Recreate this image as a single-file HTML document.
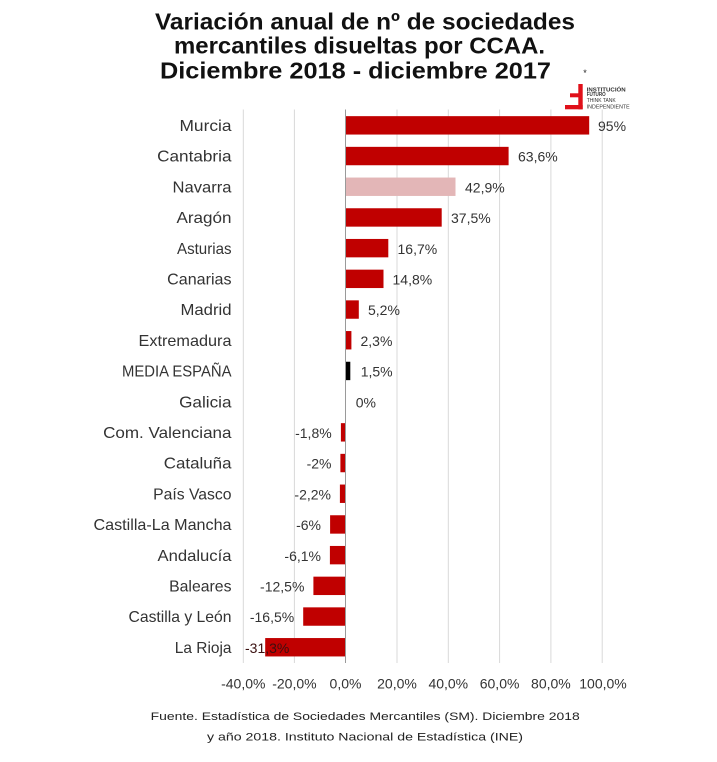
<!DOCTYPE html>
<html>
<head>
<meta charset="utf-8">
<style>
html,body{margin:0;padding:0;background:#fff;}
svg{display:block;}
text{font-family:"Liberation Sans","DejaVu Sans",sans-serif;}
</style>
</head>
<body>
<svg width="717" height="762" viewBox="0 0 717 762" xmlns="http://www.w3.org/2000/svg">
<rect x="0" y="0" width="717" height="762" fill="#fff"/>

<!-- Title -->
<g font-weight="bold" font-size="23" fill="#111">
<text x="155" y="29.5" textLength="420" lengthAdjust="spacingAndGlyphs">Variación anual de nº de sociedades</text>
<text x="174" y="53.5" textLength="371" lengthAdjust="spacingAndGlyphs">mercantiles disueltas por CCAA.</text>
<text x="160" y="78.3" textLength="391" lengthAdjust="spacingAndGlyphs">Diciembre 2018 - diciembre 2017</text>
</g>

<!-- Logo -->
<g>
<text x="585" y="76" font-size="9" fill="#222" text-anchor="middle">*</text>
<rect x="578.3" y="84" width="4.4" height="25.3" fill="#e0101a"/>
<rect x="570" y="93.3" width="8.5" height="4" fill="#e0101a"/>
<rect x="565" y="105" width="17.7" height="4.3" fill="#e0101a"/>
<g font-size="5" fill="#333">
<text x="586.7" y="91.5" font-weight="bold" textLength="39" lengthAdjust="spacingAndGlyphs">INSTITUCIÓN</text>
<text x="586.7" y="96" font-weight="bold" textLength="19" lengthAdjust="spacingAndGlyphs">FUTURO</text>
<text x="586.7" y="102" textLength="29" lengthAdjust="spacingAndGlyphs">THINK TANK</text>
<text x="586.7" y="108.3" textLength="43" lengthAdjust="spacingAndGlyphs">INDEPENDIENTE</text>
</g>
</g>

<!-- Gridlines -->
<g stroke="#d9d9d9" stroke-width="1">
<line x1="243.3" y1="109.5" x2="243.3" y2="663"/>
<line x1="294.4" y1="109.5" x2="294.4" y2="663"/>
<line x1="397" y1="109.5" x2="397" y2="663"/>
<line x1="448.3" y1="109.5" x2="448.3" y2="663"/>
<line x1="499.6" y1="109.5" x2="499.6" y2="663"/>
<line x1="550.9" y1="109.5" x2="550.9" y2="663"/>
<line x1="602.2" y1="109.5" x2="602.2" y2="663"/>
</g>

<!-- Bars -->
<g fill="#c00000">
<rect x="345.5" y="116.15" width="243.7" height="18.4"/>
<rect x="345.5" y="146.85" width="163.1" height="18.4"/>
<rect x="345.5" y="177.55" width="110.0" height="18.4" fill="#e3b6b7"/>
<rect x="345.5" y="208.25" width="96.2" height="18.4"/>
<rect x="345.5" y="238.95" width="42.8" height="18.4"/>
<rect x="345.5" y="269.65" width="38.0" height="18.4"/>
<rect x="345.5" y="300.35" width="13.3" height="18.4"/>
<rect x="345.5" y="331.05" width="5.9" height="18.4"/>
<rect x="345.5" y="361.75" width="4.8" height="18.4" fill="#000"/>
<rect x="340.9" y="423.15" width="4.6" height="18.4"/>
<rect x="340.4" y="453.85" width="5.1" height="18.4"/>
<rect x="339.9" y="484.55" width="5.6" height="18.4"/>
<rect x="330.1" y="515.25" width="15.4" height="18.4"/>
<rect x="329.9" y="545.95" width="15.6" height="18.4"/>
<rect x="313.4" y="576.65" width="32.1" height="18.4"/>
<rect x="303.2" y="607.35" width="42.3" height="18.4"/>
<rect x="265.2" y="638.05" width="80.3" height="18.4"/>
</g>

<!-- Zero axis -->
<line x1="345.5" y1="109.5" x2="345.5" y2="663" stroke="#9a9a9a" stroke-width="1"/>

<!-- Category labels -->
<g font-size="16" fill="#333" text-anchor="end">
<text x="231.5" y="131" textLength="52" lengthAdjust="spacingAndGlyphs">Murcia</text>
<text x="231.5" y="161.7" textLength="74.4" lengthAdjust="spacingAndGlyphs">Cantabria</text>
<text x="231.5" y="192.4" textLength="59" lengthAdjust="spacingAndGlyphs">Navarra</text>
<text x="231.5" y="223.1" textLength="55" lengthAdjust="spacingAndGlyphs">Aragón</text>
<text x="231.5" y="253.8" textLength="54.5" lengthAdjust="spacingAndGlyphs">Asturias</text>
<text x="231.5" y="284.5" textLength="64.3" lengthAdjust="spacingAndGlyphs">Canarias</text>
<text x="231.5" y="315.2" textLength="51" lengthAdjust="spacingAndGlyphs">Madrid</text>
<text x="231.5" y="345.9" textLength="93" lengthAdjust="spacingAndGlyphs">Extremadura</text>
<text x="231.5" y="376.6" textLength="109.5" lengthAdjust="spacingAndGlyphs">MEDIA ESPAÑA</text>
<text x="231.5" y="407.3" textLength="52.4" lengthAdjust="spacingAndGlyphs">Galicia</text>
<text x="231.5" y="438" textLength="128.4" lengthAdjust="spacingAndGlyphs">Com. Valenciana</text>
<text x="231.5" y="468.7" textLength="67.7" lengthAdjust="spacingAndGlyphs">Cataluña</text>
<text x="231.5" y="499.4" textLength="78.4" lengthAdjust="spacingAndGlyphs">País Vasco</text>
<text x="231.5" y="530.1" textLength="138" lengthAdjust="spacingAndGlyphs">Castilla-La Mancha</text>
<text x="231.5" y="560.8" textLength="74" lengthAdjust="spacingAndGlyphs">Andalucía</text>
<text x="231.5" y="591.5" textLength="62.4" lengthAdjust="spacingAndGlyphs">Baleares</text>
<text x="231.5" y="622.2" textLength="103" lengthAdjust="spacingAndGlyphs">Castilla y León</text>
<text x="231.5" y="652.9" textLength="56.7" lengthAdjust="spacingAndGlyphs">La Rioja</text>
</g>

<!-- Value labels -->
<g font-size="14" fill="#333">
<text x="598" y="131">95%</text>
<text x="518" y="161.7">63,6%</text>
<text x="465" y="192.4">42,9%</text>
<text x="451" y="223.1">37,5%</text>
<text x="397.5" y="253.8">16,7%</text>
<text x="392.5" y="284.5">14,8%</text>
<text x="368" y="315.2">5,2%</text>
<text x="360.5" y="345.9">2,3%</text>
<text x="360.7" y="376.6">1,5%</text>
<text x="355.7" y="407.3">0%</text>
<g text-anchor="end">
<text x="331.7" y="438">-1,8%</text>
<text x="331.5" y="468.7">-2%</text>
<text x="331" y="499.4">-2,2%</text>
<text x="321" y="530.1">-6%</text>
<text x="321" y="560.8">-6,1%</text>
<text x="304.4" y="591.5">-12,5%</text>
<text x="294.2" y="622.2">-16,5%</text>
</g>
<text x="245" y="652.9" fill="#3a1010">-31,3%</text>
</g>

<!-- Axis tick labels -->
<g font-size="14" fill="#333" text-anchor="middle">
<text x="243.3" y="688.3">-40,0%</text>
<text x="294.4" y="688.3">-20,0%</text>
<text x="345.5" y="688.3">0,0%</text>
<text x="397" y="688.3">20,0%</text>
<text x="448.3" y="688.3">40,0%</text>
<text x="499.6" y="688.3">60,0%</text>
<text x="550.9" y="688.3">80,0%</text>
<text x="603" y="688.3">100,0%</text>
</g>

<!-- Footnote -->
<g font-size="11" fill="#222">
<text x="150.7" y="720" textLength="429" lengthAdjust="spacingAndGlyphs">Fuente. Estadística de Sociedades Mercantiles (SM). Diciembre 2018</text>
<text x="207" y="740.5" textLength="316" lengthAdjust="spacingAndGlyphs">y año 2018. Instituto Nacional de Estadística (INE)</text>
</g>
</svg>
</body>
</html>
